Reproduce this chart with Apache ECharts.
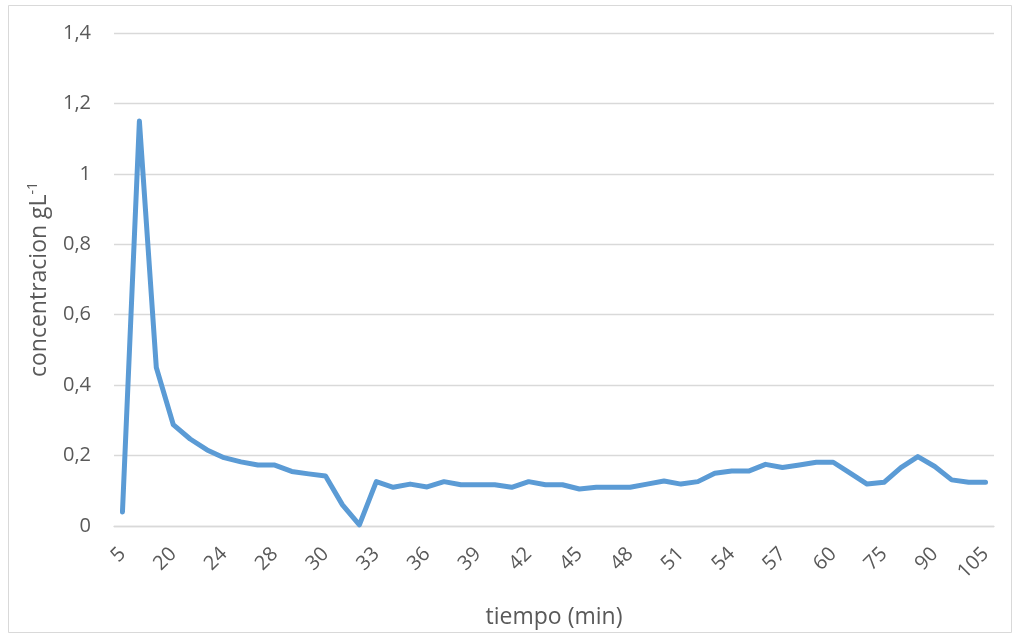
<!DOCTYPE html>
<html>
<head>
<meta charset="utf-8">
<script src="https://cdn.jsdelivr.net/npm/echarts@6/dist/echarts.min.js"></script>
<style>
html,body{margin:0;padding:0;background:#fff;}
#chart{width:1016px;height:634px;}
</style>
</head>
<body>
<div id="chart"></div>
<script>
// Categories (time in minutes); only every third label is shown, as in the reference
const categories = ['5','10','15','20','21','22','24','25','26','28','29','29,5',
  '30','31','32','33','34','35','36','37','38','39','40','41','42','43','44','45','46','47','48',
  '49','50','51','52','53','54','55','56','57','58','59','60',
  '65','70','75','80','85','90','95','100','105'];

// Concentration values (g/L)
const concentration = [0.04, 1.15, 0.45, 0.288, 0.247, 0.216, 0.194, 0.182, 0.173, 0.173, 0.155, 0.148,
  0.142, 0.06, 0.003, 0.126, 0.11, 0.119, 0.111, 0.126, 0.117, 0.117, 0.117, 0.11, 0.126, 0.117,
  0.117, 0.105, 0.11, 0.11, 0.11, 0.119, 0.128, 0.119, 0.126, 0.15, 0.156, 0.156, 0.175, 0.166,
  0.173, 0.181, 0.181, 0.15, 0.119, 0.124, 0.166, 0.197, 0.169, 0.131, 0.124, 0.124];

const yTicks = {min: 0, max: 1.4, step: 0.2};

const FONT = '"Open Sans", Lato, sans-serif';
const GRAY = '#595959';

const chart = echarts.init(document.getElementById('chart'), null, {renderer: 'canvas'});
chart.setOption({
  animation: false,
  backgroundColor: '#ffffff',
  graphic: [{
    type: 'rect',
    left: 6, top: 3,
    shape: {width: 1003, height: 627},
    style: {fill: 'none', stroke: '#d9d9d9', lineWidth: 1},
    silent: true
  }],
  grid: {left: 114, right: 22, top: 33, bottom: 106},
  xAxis: {
    type: 'category',
    data: categories,
    boundaryGap: true,
    name: 'tiempo (min)',
    nameLocation: 'middle',
    nameGap: 80,
    nameTextStyle: {color: GRAY, fontSize: 23, fontFamily: FONT},
    axisLine: {show: true, lineStyle: {color: '#d9d9d9', width: 1.3}},
    axisTick: {show: false},
    axisLabel: {
      interval: 2,
      rotate: 45,
      margin: 25,
      color: GRAY,
      fontSize: 20,
      fontFamily: FONT
    },
    splitLine: {show: false}
  },
  yAxis: {
    type: 'value',
    min: yTicks.min,
    max: yTicks.max,
    interval: yTicks.step,
    name: 'concentracion gL{sup|-1}',
    nameLocation: 'middle',
    nameGap: 62,
    nameRotate: 90,
    nameTextStyle: {
      color: GRAY, fontSize: 23, fontFamily: FONT,
      rich: {sup: {color: GRAY, fontSize: 14, fontFamily: FONT, verticalAlign: 'top', padding: [0, 0, 12, 0]}}
    },
    axisLine: {show: false},
    axisTick: {show: false},
    axisLabel: {
      margin: 23,
      color: GRAY,
      fontSize: 20,
      fontFamily: FONT,
      formatter: v => String(Number(v.toFixed(1))).replace('.', ',')
    },
    splitLine: {show: true, lineStyle: {color: '#d9d9d9', width: 1.3}}
  },
  series: [{
    type: 'line',
    data: concentration,
    showSymbol: false,
    symbol: 'none',
    lineStyle: {color: '#5b9bd5', width: 5, cap: 'round', join: 'round'},
    itemStyle: {color: '#5b9bd5'}
  }]
});
</script>
</body>
</html>
